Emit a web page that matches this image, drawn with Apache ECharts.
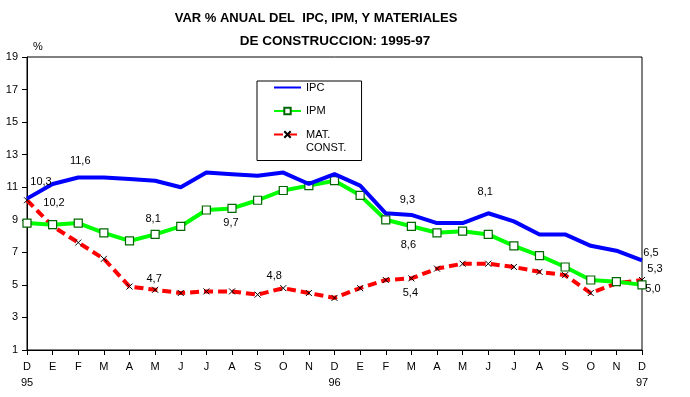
<!DOCTYPE html>
<html>
<head>
<meta charset="utf-8">
<script src="https://cdn.jsdelivr.net/npm/echarts@6/dist/echarts.min.js"></script>
<style>
  html, body { margin: 0; padding: 0; background: #fff; }
  #myChart { width: 690px; height: 397px; }
</style>
</head>
<body>
<div id="myChart"></div>
<script>
// months from Dec 95 to Dec 97
const months = ['D','E','F','M','A','M','J','J','A','S','O','N','D','E','F','M','A','M','J','J','A','S','O','N','D']
const years = { 0: '95', 12: '96', 24: '97' }

const ipc = [10.3, 11.2, 11.6, 11.6, 11.5, 11.4, 11.0, 11.9, 11.8, 11.7, 11.9, 11.2, 11.8,
             11.1, 9.4, 9.3, 8.8, 8.8, 9.4, 8.9, 8.1, 8.1, 7.4, 7.1, 6.5]
const ipm = [8.8, 8.7, 8.8, 8.2, 7.7, 8.1, 8.6, 9.6, 9.7, 10.2, 10.8, 11.1, 11.4,
             10.5, 9.0, 8.6, 8.2, 8.3, 8.1, 7.4, 6.8, 6.1, 5.3, 5.2, 5.0]
const matConst = [10.2, 8.6, 7.6, 6.6, 4.9, 4.7, 4.5, 4.6, 4.6, 4.4, 4.8, 4.5, 4.2,
                  4.8, 5.3, 5.4, 6.0, 6.3, 6.3, 6.1, 5.8, 5.6, 4.5, 5.1, 5.3]

// which points carry a value label: index -> [dx, dy] from the point
const ipcLabels = { 0: [14, -17], 2: [2, -16], 15: [-4, -15], 24: [9, -8] }
const ipmLabels = { 5: [-2, -15], 8: [-1, 15], 15: [-3, 19], 18: [-3, -42], 24: [11, 4] }
const matLabels = { 0: [27, 3], 5: [-1, -11], 10: [-9, -12], 15: [-1, 15], 24: [13, -11] }

const font = 'Liberation Sans, Arial, sans-serif'
const xMark = 'path://M0,0L10,10M10,0L0,10'

function withLabels(values, labels) {
    return values.map((v, i) => {
        if (!labels[i]) return v
        return {
            value: v,
            label: {
                show: true,
                position: 'inside',
                offset: labels[i],
                align: 'center',
                verticalAlign: 'middle',
                color: '#000',
                fontSize: 11,
                fontFamily: font,
                formatter: p => p.value.toFixed(1).replace('.', ',')
            }
        }
    })
}

let myChart = echarts.init(document.getElementById('myChart'))
let option = {
    animation: false,
    title: [
        {
            text: 'VAR % ANUAL DEL  IPC, IPM, Y MATERIALES',
            left: 316, top: 12, textAlign: 'center', padding: 0,
            textStyle: { fontSize: 13, fontWeight: 'bold', fontFamily: font, color: '#000' }
        },
        {
            text: 'DE CONSTRUCCION: 1995-97',
            left: 335, top: 34, textAlign: 'center', padding: 0,
            textStyle: { fontSize: 13.5, fontWeight: 'bold', fontFamily: font, color: '#000' }
        }
    ],
    legend: [
        {
            orient: 'vertical',
            left: 257, top: 81,
            padding: [1, 36, 44, 16],
            itemGap: 12.5,
            itemWidth: 27,
            itemHeight: 8,
            borderColor: '#000',
            borderWidth: 1,
            textStyle: { fontSize: 11, fontFamily: font, color: '#000' },
            data: ['IPC', 'IPM']
        },
        {
            orient: 'vertical',
            left: 257, top: 115,
            padding: [0, 0, 0, 16],
            itemWidth: 27,
            itemHeight: 8,
            textStyle: { fontSize: 11, fontFamily: font, color: '#000', lineHeight: 13 },
            formatter: name => ' \n' + name,
            data: ['MAT.\nCONST.']
        }
    ],
    grid: {
        left: 27, right: 48, top: 57, bottom: 47,
        show: true, borderColor: '#000', borderWidth: 1
    },
    xAxis: {
        type: 'category',
        boundaryGap: false,
        data: months.map((m, i) => years[i] ? m + '\n' + years[i] : m),
        axisLine: { lineStyle: { color: '#000', width: 1 } },
        axisTick: { show: true, inside: false, length: 5, lineStyle: { color: '#000' } },
        axisLabel: {
            interval: 0, margin: 9, color: '#000', fontSize: 11, fontFamily: font,
            lineHeight: 16, verticalAlign: 'top'
        },
        splitLine: { show: false }
    },
    yAxis: {
        type: 'value',
        min: 1, max: 19, interval: 2,
        name: '%',
        nameLocation: 'end',
        nameGap: 5,
        nameTextStyle: { color: '#000', fontSize: 11, fontFamily: font, align: 'left', padding: [0, 0, 0, 6] },
        axisLine: { show: true, lineStyle: { color: '#000', width: 1 } },
        axisTick: { show: true, inside: false, length: 5, lineStyle: { color: '#000' } },
        axisLabel: { margin: 9, color: '#000', fontSize: 11, fontFamily: font },
        splitLine: { show: false }
    },
    series: [
        {
            name: 'IPC',
            type: 'line',
            data: withLabels(ipc, ipcLabels),
            symbol: 'circle',
            symbolSize: 1,
            showAllSymbol: true,
            lineStyle: { color: '#0000ff', width: 4 },
            itemStyle: { color: 'rgba(0,0,0,0)' },
            z: 3
        },
        {
            name: 'IPM',
            type: 'line',
            data: withLabels(ipm, ipmLabels),
            symbol: 'rect',
            symbolSize: 8,
            showAllSymbol: true,
            lineStyle: { color: '#00ff00', width: 4 },
            itemStyle: { color: '#ffffff', borderColor: '#006600', borderWidth: 1.2 },
            z: 2
        },
        {
            name: 'MAT.\nCONST.',
            type: 'line',
            data: withLabels(matConst, matLabels),
            symbol: xMark,
            symbolSize: 6,
            showAllSymbol: true,
            lineStyle: { color: '#ff0000', width: 4, type: [9, 5] },
            itemStyle: { color: 'rgba(0,0,0,0)', borderColor: '#000', borderWidth: 1 },
            z: 1
        }
    ]
}
myChart.setOption(option)
</script>
</body>
</html>
